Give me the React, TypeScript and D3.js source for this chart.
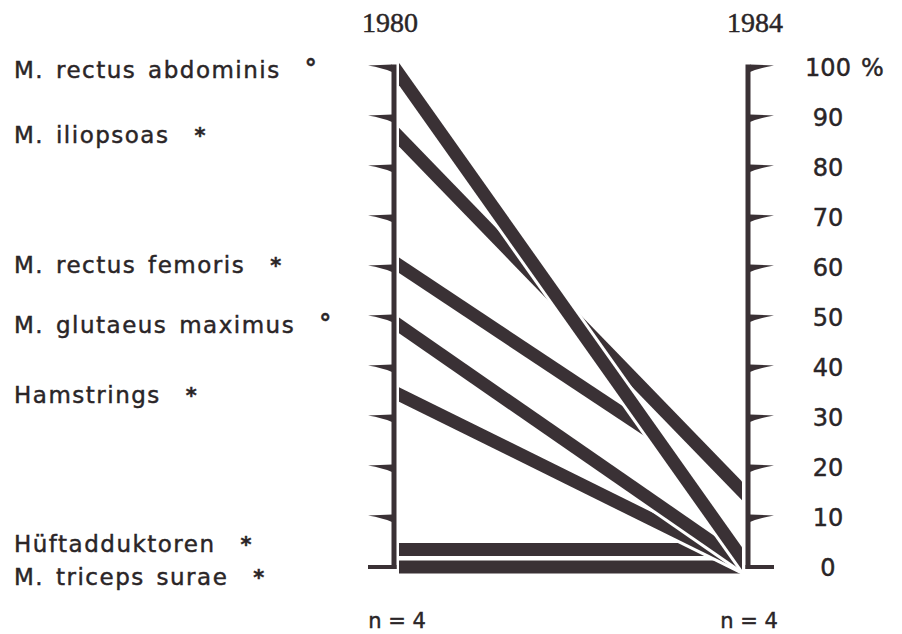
import * as d3 from "d3";

const years = [1980, 1984];
const muscles = [
  "M. rectus abdominis",
  "M. iliopsoas",
  "M. rectus femoris",
  "M. glutaeus maximus",
  "Hamstrings",
  "Hüftadduktoren",
  "M. triceps surae",
];
const marks = ["°", "*", "*", "°", "*", "*", "*"];
const values1980 = [100, 87, 61, 49, 35, 3.5, 0];
const values1984 = [0, 14, 14, 0, 0, 3.5, 0];
// band runs into another band and stops there
const joins = [null, null, "M. rectus abdominis", null, null, "Hamstrings", "Hamstrings"];
const sampleSizes = [4, 4];
const unit = "%";

const W = 902;
const H = 634;
const ink = "#3a3135";
const textInk = "#2a2527";
const bandWidth = 13;
const halo = 3;

type Series = { name: string; mark: string; v0: number; v1: number; join: string | null };

function spreadLabels(centers: number[], gap: number) {
  const c = centers.slice();
  for (let k = 0; k < 50; k++) {
    for (let i = 1; i < c.length; i++) {
      const d = c[i] - c[i - 1];
      if (d < gap) {
        const push = (gap - d) / 2;
        c[i - 1] -= push;
        c[i] += push;
      }
    }
  }
  return c;
}

export default function App() {
  const x = d3.scaleLinear().domain(years).range([394, 748]);
  const y = d3.scaleLinear().domain([0, 100]).range([567, 67]);
  const line = d3
    .line<[number, number]>()
    .x((d) => x(d[0]))
    .y((d) => y(d[1]));

  const series: Series[] = muscles.map((name, i) => ({
    name,
    mark: marks[i],
    v0: values1980[i],
    v1: values1984[i],
    join: joins[i],
  }));

  // where a band meets the band it runs into
  const endPoint = (s: Series): [number, number] => {
    const o = series.find((d) => d.name === s.join);
    if (!o) return [years[1], s.v1];
    const den = s.v1 - s.v0 - (o.v1 - o.v0);
    if (den === 0) return [years[1], s.v1];
    const t = (o.v0 - s.v0) / den;
    if (t <= 0 || t >= 1) return [years[1], s.v1];
    return [years[0] + t * (years[1] - years[0]), s.v0 + t * (s.v1 - s.v0)];
  };

  const x0 = x(years[0]);
  const x1 = x(years[1]);
  const ticks = y.ticks(10);

  const labelY = spreadLabels(
    series.map((s) => y(s.v0) + 2),
    33
  );

  // tapered tick spike, flat on top, curved underneath
  const tickPath = (ax: number, ty: number, dir: number) =>
    `M${ax},${ty - 2.5} L${ax + dir * 24},${ty - 1.5} Q${ax + dir * 9},${ty + 1} ${ax},${ty + 5} Z`;

  const axis = (ax: number, dir: number) => (
    <g fill={ink}>
      <line x1={ax} x2={ax} y1={y(100) - 2.5} y2={y(0) + 2} stroke={ink} strokeWidth={5} />
      {ticks.map((t) =>
        t === 0 ? (
          <rect
            key={t}
            x={dir < 0 ? ax - 26 : ax - 2.5}
            y={y(0) - 2}
            width={28.5}
            height={4}
          />
        ) : (
          <path key={t} d={tickPath(dir < 0 ? ax - 2 : ax + 2, y(t), dir)} />
        )
      )}
    </g>
  );

  return (
    <svg
      width={W}
      height={H}
      style={{ position: "absolute", left: 0, top: 0, background: "#fff" }}
      fontFamily="DejaVu Sans"
    >
      <defs>
        <clipPath id="plot">
          <rect x={x0 + 5} y={0} width={x1 - 6 - (x0 + 5)} height={y(0) + 9} />
        </clipPath>
      </defs>

      {axis(x0, -1)}
      {axis(x1, 1)}

      <g clipPath="url(#plot)" fill="none" strokeLinecap="butt">
        {series
          .slice()
          .reverse()
          .map((s) => {
            const d = line([[years[0], s.v0], endPoint(s)]) || "";
            return (
              <g key={s.name}>
                <path d={d} stroke="#fff" strokeWidth={bandWidth + 2 * halo} />
                <path d={d} stroke={ink} strokeWidth={bandWidth} />
              </g>
            );
          })}
      </g>

      <g fill={textInk} stroke={textInk} strokeWidth={0.45}>
        <text x={x0 - 4} y={32} textAnchor="middle" fontFamily="Liberation Serif" fontSize={28}>
          {years[0]}
        </text>
        <text x={x1 + 7} y={32} textAnchor="middle" fontFamily="Liberation Serif" fontSize={28}>
          {years[1]}
        </text>

        {ticks.map((t) => (
          <text key={t} x={828} y={y(t) + 9} textAnchor="middle" fontSize={24}>
            {t}
          </text>
        ))}
        <text x={861} y={y(100) + 9} fontSize={24}>
          {unit}
        </text>

        {series.map((s, i) => (
          <text
            key={s.name}
            x={14}
            y={labelY[i] + 8.5}
            fontSize={23}
            letterSpacing={1.5}
            wordSpacing={3}
          >
            {s.name}
            <tspan
              dx={s.mark === "°" ? 24 : 25}
              fontWeight="bold"
              fontSize={s.mark === "°" ? 24 : 21}
              dy={s.mark === "°" ? -1 : 0}
            >
              {s.mark}
            </tspan>
          </text>
        ))}

        {sampleSizes.map((n, i) => (
          <text key={i} x={x(years[i]) + (i === 0 ? 3 : 1)} y={628} textAnchor="middle" fontSize={21}>
            {`n = ${n}`}
          </text>
        ))}
      </g>
    </svg>
  );
}
